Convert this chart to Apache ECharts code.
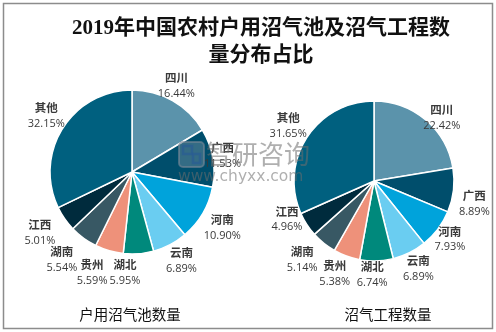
<!DOCTYPE html>
<html>
<head>
<meta charset="utf-8">
<script src="https://cdn.jsdelivr.net/npm/echarts@6/dist/echarts.min.js"></script>
<style>
html,body{margin:0;padding:0;background:#fff;}
#main{width:496px;height:332px;}
</style>
</head>
<body>
<div id="main"></div>
<script>
// ---- data ----
const categories = ['四川', '广西', '河南', '云南', '湖北', '贵州', '湖南', '江西', '其他'];
const householdShares = [16.44, 11.53, 10.90, 6.89, 5.95, 5.59, 5.54, 5.01, 32.15];
const projectShares = [22.42, 8.89, 7.93, 6.89, 6.74, 5.38, 5.14, 4.96, 31.65];
const seriesNames = ['户用沼气池数量', '沼气工程数量'];
const titleLines = ['2019年中国农村户用沼气池及沼气工程数', '量分布占比'];

// ---- style ----
const colors = ['#5B93AB', '#004E6C', '#00A3DB', '#6ACDF1', '#00897C', '#EE917A', '#385864', '#002B3D', '#00607F'];
const leftNudge = [[-5,1],[-8,1],[4,5],[3,0],[-15,1],[-12,5],[-11,7],[-10,4],[-1,-3]];
const rightNudge = [[3,13],[1,11],[-4,-2],[0,-2],[-5,-6],[-5,-1],[-9,1],[-3,-16],[-2,-1]];

function makeLayout(cx, cy, values, nudges) {
  const total = values.reduce((a, b) => a + b, 0);
  return function (p) {
    const i = p.dataIndex;
    let before = 0;
    for (let k = 0; k < i; k++) before += values[k];
    const mid = (before + values[i] / 2) / total * Math.PI * 2;
    const d = 100;
    return {
      x: cx + Math.sin(mid) * d + nudges[i][0],
      y: cy - Math.cos(mid) * d + nudges[i][1],
      align: 'center',
      verticalAlign: 'middle',
      hideOverlap: false,
      moveOverlap: null
    };
  };
}

function makeData(values) {
  return categories.map((c, i) => ({ name: c, value: values[i] }));
}

const labelStyle = {
  show: true,
  position: 'outside',
  overflow: 'none',
  width: null,
  alignTo: 'none',
  edgeDistance: 0,
  formatter: p => '{n|' + p.name + '}\n{v|' + p.value.toFixed(2) + '%}',
  rich: {
    n: { fontSize: 11.5, fontWeight: 'bold', color: '#3a3a3a', fontFamily: 'Noto Sans CJK SC', lineHeight: 16, align: 'center' },
    v: { fontSize: 11, fontWeight: 'normal', color: '#3a3a3a', fontFamily: 'Open Sans', lineHeight: 16, align: 'center' }
  }
};

const chart = echarts.init(document.getElementById('main'));
chart.setOption({
  animation: false,
  color: colors,
  title: {
    text: titleLines.join('\n'),
    left: 256,
    textAlign: 'center',
    top: 10,
    textStyle: { fontSize: 21, fontWeight: 'bold', color: '#111', fontFamily: 'Liberation Serif, Noto Sans CJK SC', lineHeight: 27 }
  },
  graphic: [
    { type: 'rect', shape: { x: 3.5, y: 3.5, width: 489, height: 325 }, style: { fill: 'none', stroke: '#8c8c8c', lineWidth: 1.5 }, z: 0 },
    { type: 'text', x: 130, y: 314, style: { text: seriesNames[0], fontSize: 14.5, fill: '#111', fontFamily: 'Noto Sans CJK SC', align: 'center', verticalAlign: 'middle' } },
    { type: 'text', x: 388, y: 314, style: { text: seriesNames[1], fontSize: 14.5, fill: '#111', fontFamily: 'Noto Sans CJK SC', align: 'center', verticalAlign: 'middle' } },
    { type: 'rect', shape: { x: 179, y: 142, width: 25, height: 25, r: 4 }, style: { fill: 'rgba(150,165,180,0.35)', stroke: 'rgba(120,135,150,0.6)', lineWidth: 2 }, z: 100 },
    { type: 'rect', shape: { x: 183, y: 146, width: 9, height: 8 }, style: { fill: 'none', stroke: 'rgba(40,90,150,0.6)', lineWidth: 2.5 }, z: 100 },
    { type: 'rect', shape: { x: 193, y: 154, width: 7, height: 9 }, style: { fill: 'none', stroke: 'rgba(40,90,150,0.6)', lineWidth: 2.5 }, z: 100 },
    { type: 'text', x: 206, y: 154, style: { text: '智研咨询', fontSize: 26, fill: 'rgba(110,110,110,0.55)', fontFamily: 'Noto Sans CJK SC', verticalAlign: 'middle' }, z: 100 },
    { type: 'text', x: 178, y: 177, style: { text: 'www.chyxx.com', fontSize: 15.5, fill: 'rgba(110,110,110,0.55)', fontFamily: 'DejaVu Sans', verticalAlign: 'middle' }, z: 100 }
  ],
  series: [
    {
      name: seriesNames[0],
      type: 'pie',
      center: [132, 172],
      radius: [0, 82],
      startAngle: 90,
      clockwise: true,
      avoidLabelOverlap: false,
      data: makeData(householdShares),
      itemStyle: { borderColor: '#fff', borderWidth: 1.5 },
      label: labelStyle,
      labelLine: { show: false },
      labelLayout: makeLayout(132, 172, householdShares, leftNudge),
      emphasis: { disabled: true }
    },
    {
      name: seriesNames[1],
      type: 'pie',
      center: [374, 181],
      radius: [0, 80],
      startAngle: 90,
      clockwise: true,
      avoidLabelOverlap: false,
      data: makeData(projectShares),
      itemStyle: { borderColor: '#fff', borderWidth: 1.5 },
      label: labelStyle,
      labelLine: { show: false },
      labelLayout: makeLayout(374, 181, projectShares, rightNudge),
      emphasis: { disabled: true }
    }
  ]
});
</script>
</body>
</html>
